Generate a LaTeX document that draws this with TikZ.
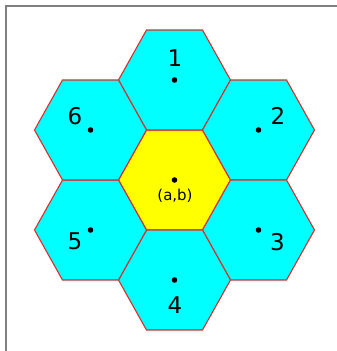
\documentclass[tikz,border=0pt]{standalone}
\usepackage{fontspec}
\setmainfont{DejaVu Sans}
\usetikzlibrary{positioning}
\definecolor{hexcyan}{RGB}{0,255,255}
\definecolor{hexyellow}{RGB}{255,255,0}
\definecolor{hexred}{RGB}{220,45,45}
\definecolor{framegray}{RGB}{128,128,128}

\begin{document}
\begin{tikzpicture}[
  x=1pt, y=-1pt,
  hexcell/.style={draw=hexred, line width=1.1pt, line join=miter},
  centre/.style={circle, fill=black, inner sep=0pt, minimum size=5.6pt},
  num/.style={font=\fontsize{23}{23}\selectfont, inner sep=0pt},
  coord/.style={font=\fontsize{15}{15}\selectfont, inner sep=0pt}
]

\useasboundingbox (0,0) rectangle (337,351);

% ---- Frame (top and left edges only) ----
\draw[framegray, line width=1.6pt] (6,351) -- (6,6) -- (337,6);

% ---- Hexagonal cells ----
\foreach \name/\cx/\cy/\fillc in {
    mid/174.5/180/hexyellow,
    h1/174.5/80/hexcyan,  h2/258.5/130/hexcyan,
    h3/258.5/230/hexcyan, h4/174.5/280/hexcyan,
    h5/90.5/230/hexcyan,  h6/90.5/130/hexcyan} {
  \filldraw[hexcell, fill=\fillc]
    ({\cx-56},\cy) -- ({\cx-28},{\cy-50}) -- ({\cx+28},{\cy-50})
    -- ({\cx+56},\cy) -- ({\cx+28},{\cy+50}) -- ({\cx-28},{\cy+50}) -- cycle;
  \coordinate (\name) at (\cx,\cy);
}

% ---- Centre points ----
\foreach \name in {mid, h1, h2, h3, h4, h5, h6}
  \node[centre] (d\name) at (\name) {};

% ---- Labels ----
\node[coord] (lmid) at (175,196) {(a,b)};
\node[num] (l1) at (175,58) {1};
\node[num] (l2) at (278,116) {2};
\node[num] (l3) at (277.5,242) {3};
\node[num] (l4) at (175,305.5) {4};
\node[num] (l5) at (75,241) {5};
\node[num] (l6) at (75,116) {6};

\end{tikzpicture}
\end{document}
